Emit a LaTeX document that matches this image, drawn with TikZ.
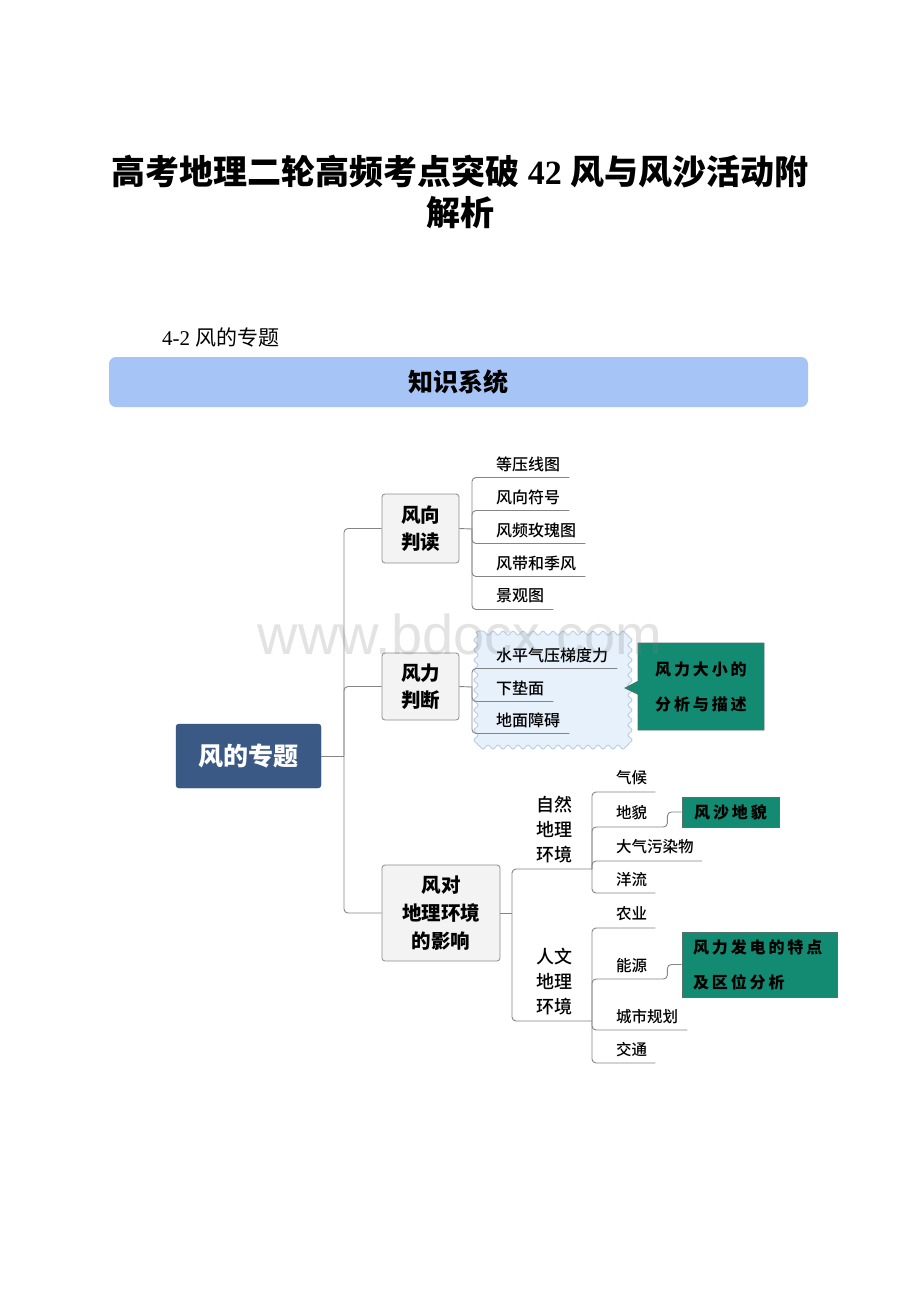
\documentclass[tikz,border=0pt]{standalone}
\usepackage{fontspec}
\setmainfont{Liberation Serif}
\newfontfamily\cjk{Noto Sans CJK SC}
\newfontfamily\cjkm{Noto Sans CJK SC}[UprightFont={* Medium}]
\newfontfamily\cjkg[LetterSpace=18]{Noto Sans CJK SC}
\newfontfamily\wmfont{Liberation Sans}
\usetikzlibrary{decorations.pathmorphing,shapes.callouts}
\definecolor{hdr}{HTML}{A6C4F5}
\definecolor{rootc}{HTML}{3A5A85}
\definecolor{boxf}{HTML}{F3F3F3}
\definecolor{boxd}{HTML}{8C8C8C}
\definecolor{linec}{HTML}{858585}
\definecolor{greenf}{HTML}{138A72}
\definecolor{greend}{HTML}{56706A}
\definecolor{wavyf}{HTML}{E6F1FB}
\definecolor{wavyd}{HTML}{B4CBE2}
\tikzset{
  conn/.style={draw=linec, line width=0.9pt, rounded corners=4pt},
  bbox/.style={draw=boxd, fill=boxf, rounded corners=3pt, line width=0.8pt, align=center,
    font=\cjk\bfseries\fontsize{19.5}{27}\selectfont, inner sep=0pt},
  leaf/.style={anchor=west, inner xsep=0pt, inner ysep=1pt, font=\cjkm\fontsize{16}{18}\selectfont},
  subleaf/.style={anchor=west, inner xsep=0pt, inner ysep=1pt, font=\cjkm\fontsize{15.5}{18}\selectfont},
  subnode/.style={align=center, inner sep=0pt, font=\cjkm\fontsize{18}{25}\selectfont},
  gbox/.style={draw=greend, fill=greenf, line width=0.8pt, text=black,
    font=\cjkg\bfseries\fontsize{16}{35}\selectfont, inner sep=0pt},
}
\begin{document}
\begin{tikzpicture}[x=1pt,y=-1pt]
\useasboundingbox (0,0) rectangle (920,1302);
\fill[white] (0,0) rectangle (920,1302);

% title
\node[align=center, font=\fontsize{34}{41}\selectfont, inner sep=0pt] (title) at (460,192)
  {{\cjk\bfseries 高考地理二轮高频考点突破} {\bfseries 42} {\cjk\bfseries 风与风沙活动附}\\{\cjk\bfseries 解析}};
\node[anchor=west, font=\fontsize{21}{24}\selectfont, inner sep=0pt] (sub) at (162,337) {4-2 {\cjk 风的专题}};

% header bar
\node[fill=hdr, rounded corners=7pt, minimum width=699pt, minimum height=50pt, inner sep=0pt,
  font=\cjk\bfseries\fontsize{25}{28}\selectfont] (hdr) at (458.5,382) {知识系统};

% wavy background
\draw[decorate, decoration={snake, amplitude=2pt, segment length=10pt}, fill=wavyf, draw=wavyd, line width=0.8pt]
  (476,632) rectangle (628,741);

% root
\node[fill=rootc, draw=rootc!80!black, rounded corners=3pt, minimum width=145pt, minimum height=64pt,
  text=white, font=\cjk\bfseries\fontsize{25}{28}\selectfont, inner sep=0pt] (root) at (248.5,756) {风的专题};

% branches
\node[bbox, minimum width=77pt, minimum height=69pt] (b1) at (420.5,528.5) {风向\\判读};
\node[bbox, minimum width=77pt, minimum height=67pt] (b2) at (420.5,686.5) {风力\\判断};
\node[bbox, minimum width=118pt, minimum height=96pt, font=\cjk\bfseries\fontsize{19.5}{28}\selectfont] (b3) at (441,913) {风对\\地理环境\\的影响};

\coordinate (t) at (344,756);
\draw[conn] (root.east) -- (t);
\draw[conn] (t) |- (b1.west);
\draw[conn] (t) |- (b2.west);
\draw[conn] (t) |- (b3.west);

% branch 1 leaves
\coordinate (j1) at (472,529);
\draw[conn] (b1.east) -- (j1);
\node[leaf] (l11) at (496,464) {等压线图};
\node[leaf] (l12) at (496,497) {风向符号};
\node[leaf] (l13) at (496,530) {风频玫瑰图};
\node[leaf] (l14) at (496,563) {风带和季风};
\node[leaf] (l15) at (496,596) {景观图};
\foreach \l in {l11,l12,l13,l14,l15}
  \draw[conn] (j1) |- ([xshift=9pt,yshift=-13.5pt]\l.east);

% branch 2 leaves
\coordinate (j2) at (472,687);
\draw[conn] (b2.east) -- (j2);
\node[leaf] (l21) at (496,655) {水平气压梯度力};
\node[leaf] (l22) at (496,688) {下垫面};
\node[leaf] (l23) at (496,720) {地面障碍};
\foreach \l in {l21,l22,l23}
  \draw[conn] (j2) |- ([xshift=9pt,yshift=-13.5pt]\l.east);

\node[gbox, rectangle callout, minimum width=126pt, minimum height=87pt, align=center,
  callout absolute pointer={(625,688)}, callout pointer width=13pt] (g1) at (701,686.5)
  {风力大小的\\分析与描述};

% branch 3
\coordinate (j3) at (512,913);
\draw[conn] (b3.east) -- (j3);
\node[subnode] (s1) at (554,830) {自然\\地理\\环境};
\node[subnode] (s2) at (554,982) {人文\\地理\\环境};
\coordinate (k1) at (592,869);
\coordinate (k2) at (592,1021);
\draw[conn] (j3) |- (k1);
\draw[conn] (j3) |- (k2);

\node[gbox, minimum width=97pt, minimum height=30pt] (g2) at (730.5,812) {风沙地貌};
\node[gbox, minimum width=155pt, minimum height=65pt, text width=133pt, align=left, inner xsep=11pt] (g3) at (759.5,964.5)
  {风力发电的特点\\及区位分析};

\node[subleaf] (m11) at (616,778) {气候};
\node[subleaf] (m12) at (616,813) {地貌};
\node[subleaf] (m13) at (616,847) {大气污染物};
\node[subleaf] (m14) at (616,880) {洋流};
\draw[conn] (k1) |- ([xshift=8pt,yshift=-14pt]m11.east);
\draw[conn] (k1) |- ([xshift=20pt,yshift=-14pt]m12.east) |- (g2.west);
\draw[conn] (k1) |- ([xshift=8pt,yshift=-14pt]m13.east);
\draw[conn] (k1) |- ([xshift=8pt,yshift=-13pt]m14.east);

\node[subleaf] (n21) at (616,914) {农业};
\node[subleaf] (n22) at (616,966) {能源};
\node[subleaf] (n23) at (616,1017) {城市规划};
\node[subleaf] (n24) at (616,1050) {交通};
\draw[conn] (k2) |- ([xshift=8pt,yshift=-14pt]n21.east);
\draw[conn] (k2) |- ([xshift=20pt,yshift=-13pt]n22.east) |- (g3.west);
\draw[conn] (k2) |- ([xshift=9pt,yshift=-13pt]n23.east);
\draw[conn] (k2) |- ([xshift=8pt,yshift=-13pt]n24.east);

% watermark
\node[text=gray, opacity=0.22, font=\wmfont\fontsize{56}{60}\selectfont, inner sep=0pt] (wm) at (460,634) {www.bdocx.com};
\end{tikzpicture}
\end{document}
